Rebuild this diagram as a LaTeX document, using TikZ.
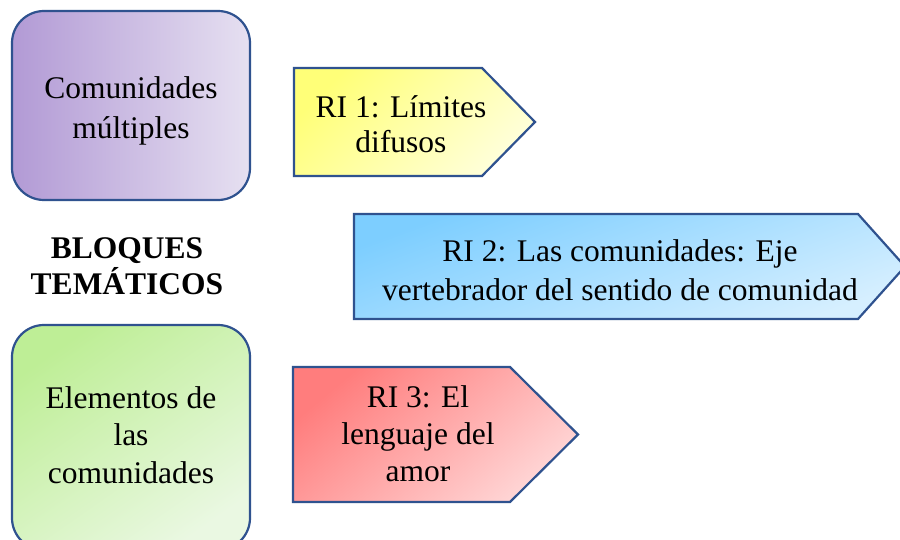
\documentclass[tikz,border=0pt]{standalone}
\usepackage{fontspec}
\setmainfont{Liberation Serif}
\definecolor{bordc}{RGB}{47,82,143}
\definecolor{purpL}{RGB}{178,154,213}
\definecolor{purpR}{RGB}{230,224,241}
\definecolor{yelA}{RGB}{255,255,120}
\definecolor{yelB}{RGB}{255,255,218}
\definecolor{bluA}{RGB}{125,206,255}
\definecolor{bluB}{RGB}{214,239,255}
\definecolor{redA}{RGB}{255,125,125}
\definecolor{redB}{RGB}{255,214,214}
\definecolor{grnA}{RGB}{190,238,150}
\definecolor{grnB}{RGB}{234,248,226}
\begin{document}
\begin{tikzpicture}[x=1pt,y=-1pt,
  shapeline/.style={draw=bordc, line width=2.2pt, line join=miter},
  roundbox/.style={shapeline, rounded corners=32pt},
  lbl/.style={align=center, inner sep=0pt, text=black},
]
\clip (0,0) rectangle (900,540);
\fill[white] (0,0) rectangle (900,540);

% purple rounded box
\path[roundbox, left color=purpL, right color=purpR] (12,11) rectangle (250,200);
\node[lbl, font=\fontsize{31.5}{40}\selectfont] (multi) at (131,111) {Comunidades\\múltiples};

% green rounded box
\path[roundbox, top color=grnA, bottom color=grnB, shading angle=35] (12,325) rectangle (250,550);
\node[lbl, font=\fontsize{31.5}{37.5}\selectfont] (elem) at (131,435) {Elementos de\\las\\comunidades};

% title
\node[lbl, font=\fontsize{31.5}{36}\selectfont\bfseries] (bloques) at (127,266) {BLOQUES\\TEMÁTICOS};

% yellow pentagon
\path[shapeline, top color=yelA, bottom color=yelB, shading angle=45]
  (294,68) -- (482,68) -- (535,122) -- (482,176) -- (294,176) -- cycle;
\node[lbl, font=\fontsize{31.5}{35}\selectfont] (ri1) at (401,124) {RI 1: Límites\\difusos};

% blue pentagon
\path[shapeline, top color=bluA, bottom color=bluB, shading angle=20]
  (354,214) -- (858,214) -- (905,266.5) -- (858,319) -- (354,319) -- cycle;
\node[lbl, font=\fontsize{31.5}{39}\selectfont] (ri2) at (620,270) {RI 2: Las comunidades: Eje\\vertebrador del sentido de comunidad};

% red pentagon
\path[shapeline, top color=redA, bottom color=redB, shading angle=40]
  (293,367) -- (510,367) -- (578,434.5) -- (510,502) -- (293,502) -- cycle;
\node[lbl, font=\fontsize{31.5}{37}\selectfont] (ri3) at (418,434) {RI 3: El\\lenguaje del\\amor};
\end{tikzpicture}
\end{document}
